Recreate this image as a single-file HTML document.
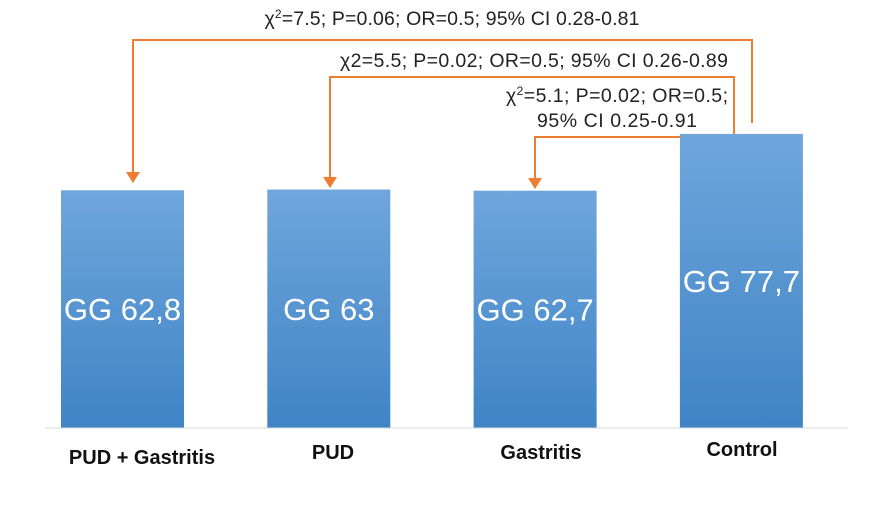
<!DOCTYPE html>
<html><head><meta charset="utf-8"><style>
body{margin:0;background:#fff;}
svg text{font-family:"Liberation Sans",sans-serif;}
</style></head><body>
<svg id="chart" width="874" height="522" xmlns="http://www.w3.org/2000/svg">
<defs>
<linearGradient id="g" x1="0" y1="0" x2="0" y2="1">
<stop offset="0" stop-color="#6fa6dc"/><stop offset="1" stop-color="#3f84c6"/>
</linearGradient>
<marker id="arr" markerWidth="14" markerHeight="12" refX="7" refY="10" orient="0" markerUnits="userSpaceOnUse">
<path d="M0,0 L14,0 L7,11 Z" fill="#ed7d31"/></marker>
</defs>
<g id="bars"></g>
<line x1="45" y1="428" x2="848" y2="428" stroke="#d9d9d9" stroke-width="1"/>
<g fill="none" stroke="#ed7d31" stroke-width="2">
<polyline points="752,123 752,40 133,40 133,182" marker-end="url(#arr)"/>
<polyline points="734,134 734,77 330,77 330,187" marker-end="url(#arr)"/>
<polyline points="680,137 535,137 535,188" marker-end="url(#arr)"/>
</g>
<g font-size="19.5" fill="#222" text-anchor="middle">
<text x="452" y="25" textLength="375">χ<tspan dy="-7" font-size="12">2</tspan><tspan dy="7">=7.5; P=0.06; OR=0.5; 95% CI 0.28-0.81</tspan></text>
<text x="534" y="67" textLength="388">χ2=5.5; P=0.02; OR=0.5; 95% CI 0.26-0.89</text>
<text x="617" y="102" textLength="222">χ<tspan dy="-7" font-size="12">2</tspan><tspan dy="7">=5.1; P=0.02; OR=0.5;</tspan></text>
<text x="617" y="127" textLength="160">95% CI 0.25-0.91</text>
</g>
</svg>
<script>
const categories=["PUD + Gastritis","PUD","Gastritis","Control"];
const values=[62.8,63,62.7,77.7];
const valueLabels=["GG 62,8","GG 63","GG 62,7","GG 77,7"];
const ns="http://www.w3.org/2000/svg";
const baseY=428, pxPerUnit=3.785;
const y=v=>baseY-v*pxPerUnit;
const x=i=>61+i*206.3;
const bw=123;
const g=document.getElementById('bars');
categories.forEach((c,i)=>{
 const r=document.createElementNS(ns,'rect');
 
 
 r.setAttribute('x',x(i));r.setAttribute('y',y(values[i]));
 r.setAttribute('width',bw);r.setAttribute('height',baseY-y(values[i]));
 r.setAttribute('fill','url(#g)');g.appendChild(r);
 const t=document.createElementNS(ns,'text');
 
 
 t.setAttribute('x',x(i)+bw/2);t.setAttribute('y',y(values[i])+(baseY-y(values[i]))/2+11);
 t.setAttribute('text-anchor','middle');t.setAttribute('fill','#fff');t.setAttribute('font-size','31');
 t.textContent=valueLabels[i];g.appendChild(t);
 const l=document.createElementNS(ns,'text');
 
 
 l.setAttribute('x',[142,333,541,742][i]);l.setAttribute('y',[464,459,459,456][i]);
 l.setAttribute('text-anchor','middle');l.setAttribute('font-weight','bold');l.setAttribute('font-size','20');l.setAttribute('fill','#111');
 l.textContent=c;g.appendChild(l);
});
</script>
</body></html>
